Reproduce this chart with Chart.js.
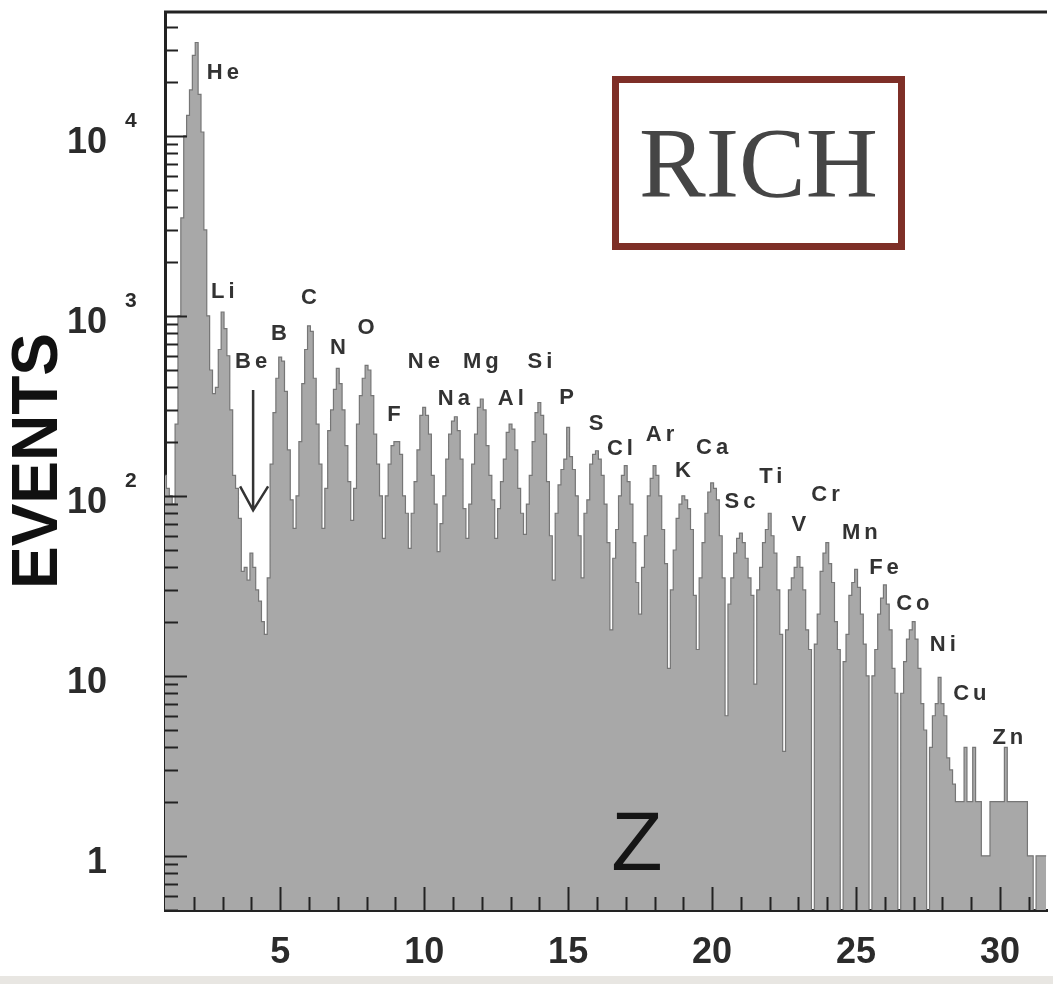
<!DOCTYPE html>
<html>
<head>
<meta charset="utf-8">
<script src="https://cdn.jsdelivr.net/npm/chart.js@4.4.1/dist/chart.umd.min.js"></script>
<style>
  html, body { margin: 0; padding: 0; background: #fff; }
  #wrap { position: relative; width: 1053px; height: 984px; overflow: hidden; }
  #strip { position: absolute; left: 0; top: 976px; width: 1053px; height: 8px; background: #e8e6e2; }
  #rich {
    position: absolute; left: 612px; top: 76px; width: 279px; height: 160px;
    border: 7px solid #7e2f27; background: #fff;
    font-family: "Liberation Serif", "DejaVu Serif", serif; font-size: 100px;
    color: #454545; text-align: center; line-height: 160px;
  }
</style>
</head>
<body>
<div id="wrap">
  <canvas id="chart" width="1053" height="984"></canvas>
  <div id="rich">RICH</div>
  <div id="strip"></div>
</div>
<script>
// histogram bins: 0.1 wide in Z, first bin centred on Z = 1.0
const zStart = 1.0;
const zStep = 0.1;

// events per bin (one row = one element, Z-0.5 .. Z+0.4)
const countsHeToO = [
  130, 110, 100, 90, 250,                                   // 1.0 - 1.4
  1000, 3500, 10000, 13000, 18000, 28000, 33000, 17000, 10500, 3000, // He
  1000, 500, 370, 400, 650, 1050, 850, 600, 300, 130,       // Li
  110, 75, 38, 40, 34, 48, 40, 30, 26, 20,                  // Be
  17, 35, 150, 290, 450, 590, 560, 380, 180, 95,            // B
  66, 100, 200, 420, 650, 880, 820, 450, 250, 150,          // C
  66, 110, 230, 300, 390, 510, 420, 300, 190, 120,          // N
  73, 110, 250, 360, 450, 530, 500, 360, 220, 150           // O
];
const countsFToCa = [
  100, 58, 100, 150, 190, 200, 200, 170, 100, 80,           // F
  51, 80, 120, 180, 280, 310, 280, 220, 130, 90,            // Ne
  49, 70, 100, 160, 220, 260, 275, 230, 160, 85,            // Na
  58, 90, 150, 220, 310, 345, 300, 190, 130, 95,            // Mg
  58, 85, 120, 160, 225, 250, 235, 180, 110, 80,            // Al
  61, 90, 130, 200, 290, 330, 280, 220, 120, 60,            // Si
  34, 80, 115, 140, 160, 240, 165, 140, 100, 60,            // P
  35, 80, 95, 150, 170, 178, 160, 130, 90, 55,              // S
  18, 45, 65, 100, 130, 147, 120, 90, 55, 33,               // Cl
  22, 40, 60, 100, 125, 147, 130, 100, 65, 42,              // Ar
  11, 30, 50, 75, 90, 100, 95, 85, 65, 28,                  // K
  14, 35, 55, 80, 105, 118, 110, 95, 60, 35                 // Ca
];
const countsScToZn = [
  6, 25, 35, 48, 58, 62, 55, 45, 35, 28,                    // Sc
  9, 30, 40, 55, 65, 80, 60, 48, 30, 17,                    // Ti
  3.8, 18, 30, 35, 40, 46, 40, 30, 18, 14,                  // V
  0.4, 15, 22, 38, 48, 55, 42, 33, 20, 14,                  // Cr
  0.4, 12, 17, 28, 33, 39, 31, 22, 15, 10,                  // Mn
  0.4, 10, 14, 22, 27, 32, 25, 18, 11, 8,                   // Fe
  0.4, 8, 12, 16, 18, 20, 16, 11, 7, 5,                     // Co
  0.4, 4, 6, 7, 9.8, 7, 6, 3.5, 3, 2.5,                     // Ni
  2, 2, 2, 4, 2, 2, 4, 2, 2, 1,                             // Cu
  1, 1, 2, 2, 2, 2, 2, 4, 2, 2,                             // Zn
  2, 2, 2, 2, 2, 1, 1, 0.4, 1, 1,                           // 30.5 - 31.4
  1, 1                                                      // 31.5 - 31.6
];

const xTickValues = [5, 10, 15, 20, 25, 30];
const yTickValues = [1, 10, 100, 1000, 10000];

// element labels, anchored at (Z, events)
const elementNames = ['He', 'Li', 'Be', 'B', 'C', 'N', 'O', 'F', 'Ne', 'Na', 'Mg', 'Al', 'Si', 'P', 'S',
  'Cl', 'Ar', 'K', 'Ca', 'Sc', 'Ti', 'V', 'Cr', 'Mn', 'Fe', 'Co', 'Ni', 'Cu', 'Zn'];
const labelZ = [3.01, 3.01, 3.99, 4.96, 6.0, 7.01, 7.98, 8.95, 9.99, 11.03, 11.97, 13.01, 14.02, 14.95, 15.97,
  16.80, 18.19, 18.99, 20.0, 20.97, 22.04, 23.01, 23.94, 25.13, 25.97, 26.97, 28.01, 28.95, 30.27];
const labelEvents = [22300, 1356, 554, 792, 1256, 662, 855, 281, 554, 345, 554, 345, 554, 349, 251,
  182, 218, 137, 184, 92.5, 127, 68.9, 101, 62.1, 39.7, 25.1, 14.8, 7.92, 4.51];

// Be arrow and the big Z
const arrowZ = 4.06, arrowTop = 387, arrowTip = 83;
const axisLetter = { text: 'Z', z: 17.39, events: 1.12 };

const events = countsHeToO.concat(countsFToCa, countsScToZn);
const points = events.map((v, i) => ({ x: +(zStart + i * zStep).toFixed(1), y: v }));

const sans = '"Liberation Sans", Arial, Helvetica, sans-serif';

const decor = {
  id: 'decor',
  afterDraw(chart) {
    const { ctx, chartArea: a, scales: { x, y } } = chart;
    ctx.save();
    ctx.strokeStyle = '#222';
    ctx.lineWidth = 3;
    ctx.beginPath();
    ctx.moveTo(a.left - 1, a.top);
    ctx.lineTo(a.right, a.top);
    ctx.stroke();

    // inward tick marks
    ctx.lineWidth = 2;
    ctx.beginPath();
    for (let z = 2; z <= 31; z++) {
      const px = Math.round(x.getPixelForValue(z)) + 0.5;
      const len = z % 5 === 0 ? 23 : 13;
      ctx.moveTo(px, a.bottom);
      ctx.lineTo(px, a.bottom - len);
    }
    for (let e = -1; e <= 4; e++) {
      for (let m = 1; m <= 9; m++) {
        const v = m * Math.pow(10, e);
        if (v < y.min || v > y.max) continue;
        const py = Math.round(y.getPixelForValue(v)) + 0.5;
        ctx.moveTo(a.left, py);
        ctx.lineTo(a.left + (m === 1 ? 22 : 13), py);
      }
    }
    ctx.stroke();

    // exponents of the y labels
    ctx.fillStyle = '#2b2b2b';
    ctx.font = 'bold 21px ' + sans;
    ctx.textAlign = 'left';
    ctx.textBaseline = 'middle';
    yTickValues.forEach(v => {
      const exp = Math.round(Math.log10(v));
      if (exp < 2) return;
      ctx.fillText(String(exp), 125, y.getPixelForValue(v) - 15);
    });

    // element names
    ctx.fillStyle = '#333';
    ctx.font = 'bold 22px ' + sans;
    ctx.textAlign = 'center';
    ctx.letterSpacing = '4px';
    elementNames.forEach((name, i) => {
      ctx.fillText(name, x.getPixelForValue(labelZ[i]) + 2, y.getPixelForValue(labelEvents[i]));
    });
    ctx.letterSpacing = '0px';

    // arrow at Be
    const ax = x.getPixelForValue(arrowZ);
    const ay0 = y.getPixelForValue(arrowTop);
    const ay1 = y.getPixelForValue(arrowTip);
    ctx.strokeStyle = '#333';
    ctx.lineWidth = 2.5;
    ctx.beginPath();
    ctx.moveTo(ax, ay0);
    ctx.lineTo(ax, ay1);
    ctx.moveTo(ax - 13, ay1 - 24);
    ctx.lineTo(ax, ay1);
    ctx.lineTo(ax + 15, ay1 - 24);
    ctx.stroke();

    // Z
    ctx.fillStyle = '#151515';
    ctx.font = '84px ' + sans;
    ctx.textAlign = 'center';
    ctx.textBaseline = 'middle';
    ctx.fillText(axisLetter.text, x.getPixelForValue(axisLetter.z), y.getPixelForValue(axisLetter.events));
    ctx.restore();
  }
};

new Chart(document.getElementById('chart'), {
  type: 'line',
  data: {
    datasets: [{
      data: points,
      stepped: 'middle',
      fill: 'start',
      backgroundColor: '#a8a8a8',
      borderColor: '#767676',
      borderWidth: 1.2,
      pointRadius: 0
    }]
  },
  options: {
    responsive: false,
    animation: false,
    events: [],
    layout: { padding: { top: 12, right: 6, left: 0, bottom: 0 } },
    plugins: { legend: { display: false }, tooltip: { enabled: false } },
    scales: {
      x: {
        type: 'linear',
        min: 1,
        max: 31.63,
        grid: { display: false, drawTicks: false },
        border: { display: true, width: 3, color: '#222' },
        afterBuildTicks: s => { s.ticks = xTickValues.map(v => ({ value: v })); },
        afterFit: s => { s.height = 74; s.paddingLeft = 0; s.paddingRight = 0; },
        ticks: {
          padding: 21,
          maxRotation: 0,
          autoSkip: false,
          color: '#2b2b2b',
          font: { family: sans, size: 36, weight: 'bold' }
        }
      },
      y: {
        type: 'logarithmic',
        min: 0.5,
        max: 48750,
        grid: { display: false, drawTicks: false },
        border: { display: true, width: 3, color: '#222' },
        afterBuildTicks: s => { s.ticks = yTickValues.map(v => ({ value: v })); },
        afterFit: s => { s.width = 165; s.paddingTop = 0; s.paddingBottom = 0; },
        ticks: {
          padding: 58,
          labelOffset: 7,
          color: '#2b2b2b',
          font: { family: sans, size: 36, weight: 'bold' },
          callback: v => (v === 1 ? '1' : '10')
        },
        title: {
          display: true,
          text: 'EVENTS',
          color: '#111',
          padding: { top: 7, bottom: 0 },
          font: { family: sans, size: 64, weight: 'bold', lineHeight: 1 }
        }
      }
    }
  },
  plugins: [decor]
});
</script>
</body>
</html>
